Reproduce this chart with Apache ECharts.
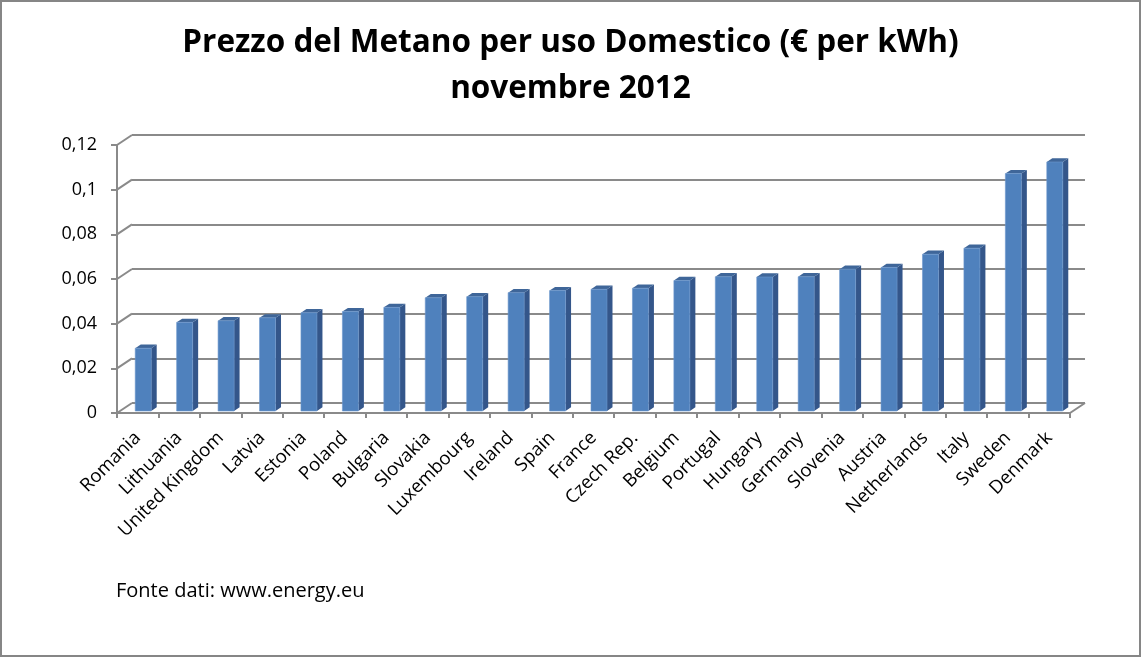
<!DOCTYPE html>
<html>
<head>
<meta charset="utf-8">
<script src="https://cdn.jsdelivr.net/npm/echarts@6/dist/echarts.min.js"></script>
<style>
html,body{margin:0;padding:0;background:#fff;}
#chart{width:1141px;height:657px;}
</style>
</head>
<body>
<div id="chart"></div>
<script>
const categories = ['Romania','Lithuania','United Kingdom','Latvia','Estonia','Poland','Bulgaria','Slovakia','Luxembourg','Ireland','Spain','France','Czech Rep.','Belgium','Portugal','Hungary','Germany','Slovenia','Austria','Netherlands','Italy','Sweden','Denmark'];
const prices = [0.0281,0.0397,0.0404,0.0417,0.0440,0.0445,0.0464,0.0507,0.0512,0.0530,0.0539,0.0545,0.0550,0.0584,0.0601,0.0600,0.0601,0.0635,0.0643,0.0702,0.0729,0.1063,0.1115];
const yTicks = [0,0.02,0.04,0.06,0.08,0.1,0.12];
const titleText = 'Prezzo del Metano per uso Domestico (€ per kWh)\nnovembre 2012';
const sourceText = 'Fonte dati: www.energy.eu';

const GRAY = '#8a8a8a';
const DEPTH = [15, -10];
const FONT = 'Open Sans';

const chart = echarts.init(document.getElementById('chart'), null, {renderer:'canvas'});

function fmt(v){ return String(v).replace('.', ','); }

const option = {
  backgroundColor:'#ffffff',
  animation:false,
  title:[
    {text:titleText, left:'center', top:15,
     textStyle:{fontFamily:FONT, fontWeight:'bold', fontSize:31.5, lineHeight:46, color:'#000'}},
    {text:sourceText, left:111, top:576,
     textStyle:{fontFamily:FONT, fontWeight:'normal', fontSize:20, color:'#000'}}
  ],
  graphic:[{type:'rect', silent:true, z:100,
    shape:{x:1,y:1,width:1139,height:655},
    style:{fill:'none', stroke:'#868686', lineWidth:2}}],
  grid:[
    {left:117, right:71, top:145, bottom:244},
    {left:132, right:56, top:135, bottom:254}
  ],
  xAxis:[
    {type:'category', gridIndex:0, data:categories,
     axisLine:{lineStyle:{color:GRAY, width:2}},
     axisTick:{show:true, length:5, lineStyle:{color:GRAY, width:2}},
     axisLabel:{rotate:45, interval:0, margin:22, fontFamily:FONT, fontSize:18.5, color:'#000'},
     splitLine:{show:false}},
    {type:'category', gridIndex:1, data:categories, show:false}
  ],
  yAxis:[
    {type:'value', gridIndex:0, min:0, max:0.12, interval:0.02,
     axisLine:{show:true, lineStyle:{color:GRAY, width:2}},
     axisTick:{show:true, length:6, lineStyle:{color:GRAY, width:2}},
     axisLabel:{margin:20, fontFamily:FONT, fontSize:18, color:'#000', formatter:fmt},
     splitLine:{show:false}},
    {type:'value', gridIndex:1, min:0, max:0.12, interval:0.02,
     axisLine:{show:false}, axisTick:{show:false}, axisLabel:{show:false},
     splitLine:{show:true, lineStyle:{color:GRAY, width:2}}}
  ],
  series:[
    {
      type:'custom', name:'walls', xAxisIndex:0, yAxisIndex:0, z:1, silent:true,
      data: yTicks.map(v => [0, v]),
      encode:{x:0, y:1},
      renderItem:function(params, api){
        const v = api.value(1);
        const cs = params.coordSys;
        const y = api.coord([0, v])[1];
        const children = [{type:'line', shape:{x1:cs.x, y1:y, x2:cs.x+DEPTH[0], y2:y+DEPTH[1]},
                 style:{stroke:GRAY, lineWidth:2}}];
        if (v === 0) {
          children.push({type:'line', shape:{x1:cs.x+cs.width, y1:y, x2:cs.x+cs.width+DEPTH[0], y2:y+DEPTH[1]},
                 style:{stroke:GRAY, lineWidth:2}});
        }
        return {type:'group', children:children};
      }
    },
    {
      type:'custom', name:'Prezzo', xAxisIndex:0, yAxisIndex:0, z:3,
      data: prices.map((v,i) => [i, v]),
      encode:{x:0, y:1},
      renderItem:function(params, api){
        const i = api.value(0), v = api.value(1);
        const top = api.coord([i, v]);
        const base = api.coord([i, 0]);
        const bw = api.size([1, 0])[0] * 0.386;
        const sx = 5.5, sy = -2;
        const dx = 5.5, dy = -3.7;
        const x0 = top[0] + sx - bw/2, x1 = x0 + bw;
        const yt = top[1] + sy, yb = base[1] + sy;
        return {type:'group', children:[
          {type:'polygon', shape:{points:[[x1,yt],[x1+dx,yt+dy],[x1+dx,yb+dy],[x1,yb]]},
           style:{fill:'#34568A'}},
          {type:'polygon', shape:{points:[[x0,yt],[x0+dx,yt+dy],[x1+dx,yt+dy],[x1,yt]]},
           style:{fill:'#3F6699'}},
          {type:'rect', shape:{x:x0, y:yt, width:bw, height:yb-yt},
           style:{fill:'#4F81BD', stroke:'#6d97cc', lineWidth:0.6}}
        ]};
      }
    }
  ]
};
chart.setOption(option);
</script>
</body>
</html>
